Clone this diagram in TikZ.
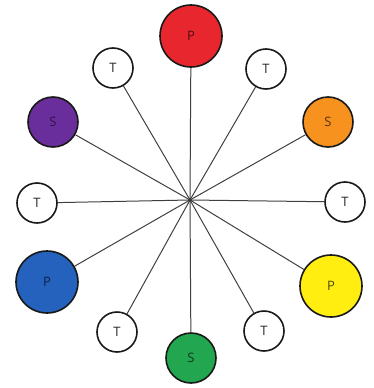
\documentclass[tikz,border=0pt]{standalone}
\usepackage{fontspec}
\setsansfont{Open Sans}

\definecolor{wheelred}{HTML}{E8262E}
\definecolor{wheelorange}{HTML}{F7921E}
\definecolor{wheelyellow}{HTML}{FFEE10}
\definecolor{wheelgreen}{HTML}{22A650}
\definecolor{wheelblue}{HTML}{2462BE}
\definecolor{wheelpurple}{HTML}{6A2E9C}

\tikzset{
   spoke/.style={draw=black!75, line width=1pt},
   hue/.style={circle, draw=black!90, line width=1.6pt, inner sep=0pt,
      font=\sffamily\fontsize{13}{15}\selectfont},
   tnode/.style={hue, minimum size=40pt, fill=white, text=black!85},
   snode/.style={hue, minimum size=50pt},
   pnode/.style={hue, minimum size=62pt}
}

\begin{document}
\begin{tikzpicture}
   [x=1pt, y=-1pt]
   \useasboundingbox (0,0) rectangle (374,388);
   \coordinate (c) at (190,200);

   % primary
   \node[pnode, fill=wheelred, text=wheelred!35!black] (pred) at (191,36) {P};
   \node[pnode, fill=wheelyellow, text=wheelyellow!30!black] (pyellow) at (331,286) {P};
   \node[pnode, fill=wheelblue, text=wheelblue!35!black] (pblue) at (47,282) {P};

   % secondary
   \node[snode, fill=wheelorange, text=wheelorange!35!black] (sorange) at (328,122) {S};
   \node[snode, fill=wheelgreen, text=wheelgreen!35!black] (sgreen) at (191,358) {S};
   \node[snode, fill=wheelpurple, text=wheelpurple!45!black] (spurple) at (53,122) {S};

   % tertiary
   \node[tnode] (tnne) at (266,69) {T};
   \node[tnode] (teast) at (345,202) {T};
   \node[tnode] (tsse) at (264,331) {T};
   \node[tnode] (tssw) at (117,332) {T};
   \node[tnode] (twest) at (37,203) {T};
   \node[tnode] (tnnw) at (113,68) {T};

   \draw[spoke] (c) -- (pred);
   \draw[spoke] (c) -- (tnne);
   \draw[spoke] (c) -- (sorange);
   \draw[spoke] (c) -- (teast);
   \draw[spoke] (c) -- (pyellow);
   \draw[spoke] (c) -- (tsse);
   \draw[spoke] (c) -- (sgreen);
   \draw[spoke] (c) -- (tssw);
   \draw[spoke] (c) -- (pblue);
   \draw[spoke] (c) -- (twest);
   \draw[spoke] (c) -- (spurple);
   \draw[spoke] (c) -- (tnnw);
   \fill[black!80] (c) circle (1.8);
\end{tikzpicture}
\end{document}
